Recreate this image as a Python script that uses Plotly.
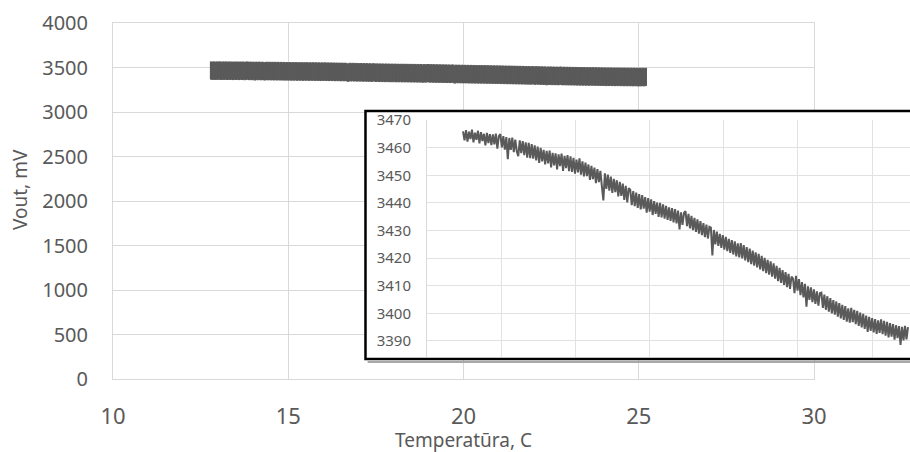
import numpy as np
import plotly.graph_objects as go

# Data: Vout (mV) versus temperature (C)
t_start, t_end = 12.8, 25.2
vout_mv = [
    3465.9, 3462.6, 3466.3, 3462.2, 3465.8, 3463.1, 3466.5, 3461.9, 3465.4, 3462.8,
    3466.1, 3461.5, 3465.6, 3462.4, 3465.0, 3460.8, 3465.3, 3461.6, 3464.9, 3460.9,
    3464.8, 3461.2, 3465.1, 3459.6, 3464.2,
    3464.9, 3460.1, 3464.2, 3459.3, 3463.8, 3455.8, 3463.5, 3459.2, 3463.6, 3458.4,
    3462.9, 3458.7, 3456.9, 3462.6, 3458.0, 3462.4, 3457.3, 3461.9, 3456.4, 3461.7,
    3456.2, 3461.3, 3456.0, 3460.8, 3455.4, 3460.4, 3454.5, 3459.9, 3455.0, 3459.2,
    3453.9, 3458.8, 3454.3, 3458.9, 3452.8, 3458.1, 3453.6, 3457.9, 3452.1, 3457.6,
    3453.3, 3457.8, 3451.6, 3457.0, 3452.6, 3457.3, 3451.5,
    3456.8, 3451.2, 3456.3, 3450.6, 3455.7, 3451.0, 3456.1, 3450.2, 3455.0, 3449.6,
    3454.6, 3449.7, 3453.9, 3448.3, 3453.4, 3448.6, 3452.8, 3447.1, 3452.2, 3447.5,
    3451.6, 3446.0, 3440.9, 3450.7, 3445.1, 3450.2, 3444.4, 3449.5, 3443.6, 3448.7,
    3443.9, 3448.2, 3442.3, 3447.6, 3442.5, 3447.0, 3441.1, 3446.2, 3440.2, 3445.3,
    3444.8, 3439.2, 3444.3, 3438.8, 3443.7, 3438.2, 3443.2, 3437.6, 3442.8, 3437.9,
    3442.1, 3436.5, 3441.7, 3436.8, 3441.3, 3435.6, 3440.6, 3436.0, 3440.1, 3434.9,
    3440.0, 3434.7, 3439.5, 3434.3, 3438.9, 3433.8, 3438.4, 3433.5, 3438.1, 3432.9,
    3437.7, 3432.6, 3437.2, 3430.4, 3436.6, 3432.0, 3436.4,
    3437.0, 3431.6, 3436.0, 3430.8, 3435.3, 3430.1, 3434.6, 3429.5, 3434.0, 3428.9,
    3433.4, 3428.3, 3432.7, 3427.6, 3432.1, 3427.1, 3431.3,
    3431.0, 3421.0, 3430.2, 3425.0, 3429.6, 3424.4, 3428.8, 3423.7, 3428.3, 3423.1,
    3427.7, 3422.5, 3427.0, 3421.9, 3426.5, 3421.3, 3426.1, 3420.6, 3425.3, 3420.3,
    3425.4, 3419.9, 3424.7, 3419.2, 3424.0, 3418.5, 3423.4, 3417.8, 3422.7, 3417.3,
    3422.1, 3416.6, 3421.5, 3415.9, 3420.8, 3415.3, 3420.1, 3414.6, 3419.4, 3414.0,
    3418.8, 3413.3, 3418.1, 3412.6, 3417.2, 3411.7, 3416.5, 3411.0, 3415.7, 3410.3,
    3414.9, 3409.5, 3414.3, 3408.9, 3413.3,
    3412.6, 3407.3, 3413.6, 3408.2, 3412.4, 3406.6, 3411.3, 3405.8, 3410.7, 3402.4,
    3409.8, 3404.9, 3409.4, 3404.1, 3408.7, 3403.4, 3408.0, 3402.8, 3407.3,
    3407.5, 3402.0, 3406.8, 3401.3, 3406.2, 3400.6, 3405.5, 3400.0, 3404.8, 3399.5,
    3404.3, 3398.8, 3403.7, 3398.2, 3403.1, 3397.6, 3402.6, 3397.0, 3401.8, 3396.6,
    3402.0, 3396.8, 3401.3, 3396.1, 3400.9, 3395.5, 3400.3, 3394.9, 3399.8, 3394.4,
    3399.2, 3393.3, 3398.7, 3393.7, 3398.3, 3393.1, 3397.9, 3392.6, 3397.5, 3392.9,
    3397.8, 3392.5, 3397.3, 3391.9, 3396.9, 3391.3, 3396.5, 3391.6, 3396.1, 3390.5,
    3395.7, 3391.0, 3395.4, 3388.6, 3395.1, 3390.2, 3395.5, 3390.6, 3395.0,
]
temperature_c = np.linspace(t_start, t_end, len(vout_mv))

main_x_ticks = [10, 15, 20, 25, 30]
main_y_ticks = [0, 500, 1000, 1500, 2000, 2500, 3000, 3500, 4000]
inset_y_ticks = [3390, 3400, 3410, 3420, 3430, 3440, 3450, 3460, 3470]

x_title = "Temperatūra, C"
y_title = "Vout, mV"

LINE = "#5a5a5a"
GRID = "#d9d9d9"
TXT = "#595959"
FONT = "Noto Sans"

fig = go.Figure()
# main chart: dense short vertical strokes form the thick band
fig.add_trace(go.Scatter(x=temperature_c, y=vout_mv, mode="markers",
                         marker=dict(symbol="line-ns", size=13, color=LINE,
                                     line=dict(width=2.5, color=LINE)),
                         xaxis="x", yaxis="y", showlegend=False, hoverinfo="skip"))
# empty subplot used as the white panel behind the inset
fig.add_trace(go.Scatter(x=[], y=[], xaxis="x2", yaxis="y2", showlegend=False))
fig.add_trace(go.Scatter(x=temperature_c, y=vout_mv, mode="lines",
                         line=dict(color=LINE, width=2, simplify=False),
                         xaxis="x3", yaxis="y3", showlegend=False, hoverinfo="skip"))

fig.update_layout(
    template="none",
    width=910, height=452,
    margin=dict(l=113, r=0, t=23, b=73, autoexpand=False),
    paper_bgcolor="white", plot_bgcolor="white",
    font=dict(family=FONT, color=TXT),
    xaxis=dict(domain=[0, 0.8795], range=[10, 30], tickvals=main_x_ticks,
               gridcolor=GRID, gridwidth=1, showline=True, mirror=True, linecolor=GRID,
               zeroline=False, ticks="", ticklabelstandoff=18, automargin=False,
               tickfont=dict(size=22, color=TXT, family=FONT), anchor="y"),
    yaxis=dict(domain=[0, 1], range=[0, 4000], tickvals=main_y_ticks,
               gridcolor=GRID, gridwidth=1, showline=True, mirror=True, linecolor=GRID,
               zeroline=False, ticks="", ticklabelstandoff=20, automargin=False,
               tickfont=dict(size=20, color=TXT, family=FONT), anchor="x"),
    xaxis2=dict(domain=[0.3168, 1], range=[0, 1], visible=False, anchor="y2",
                automargin=False),
    yaxis2=dict(domain=[0.0562, 0.7528], range=[0, 1], visible=False, anchor="x2",
                automargin=False),
    xaxis3=dict(domain=[0.394, 1], range=[11.797, 25.256], tick0=11.797, dtick=2.0676,
                showticklabels=False, ticks="", gridcolor="#e2e2e2", gridwidth=1,
                zeroline=False, showline=False, anchor="y3", automargin=False),
    yaxis3=dict(domain=[0.0618, 0.7275], range=[3384.2, 3470], tickvals=inset_y_ticks,
                gridcolor="#e2e2e2", gridwidth=1, zeroline=False, showline=True,
                linecolor="#d9d9d9", ticks="", ticklabelstandoff=12, automargin=False,
                tickfont=dict(size=15, color=TXT, family=FONT), anchor="x3"),
    annotations=[
        dict(text=x_title, xref="paper", yref="paper", x=0.4404, y=-0.17,
             xanchor="center", yanchor="middle", showarrow=False,
             font=dict(size=19, color=TXT, family=FONT)),
        dict(text=y_title, xref="paper", yref="paper", x=-0.1167, y=0.5337,
             xanchor="center", yanchor="middle", showarrow=False, textangle=-90,
             font=dict(size=19, color=TXT, family=FONT)),
    ],
    shapes=[
        dict(type="line", xref="paper", yref="paper", x0=0.3195, x1=1.02,
             y0=0.0478, y1=0.0478, line=dict(color="#a8a8a8", width=2), layer="above"),
        dict(type="rect", xref="paper", yref="paper", x0=0.3168, x1=1.02,
             y0=0.0562, y1=0.7528, line=dict(color="black", width=2.5),
             fillcolor="rgba(0,0,0,0)", layer="above"),
    ],
)

fig.write_html("out.html")
